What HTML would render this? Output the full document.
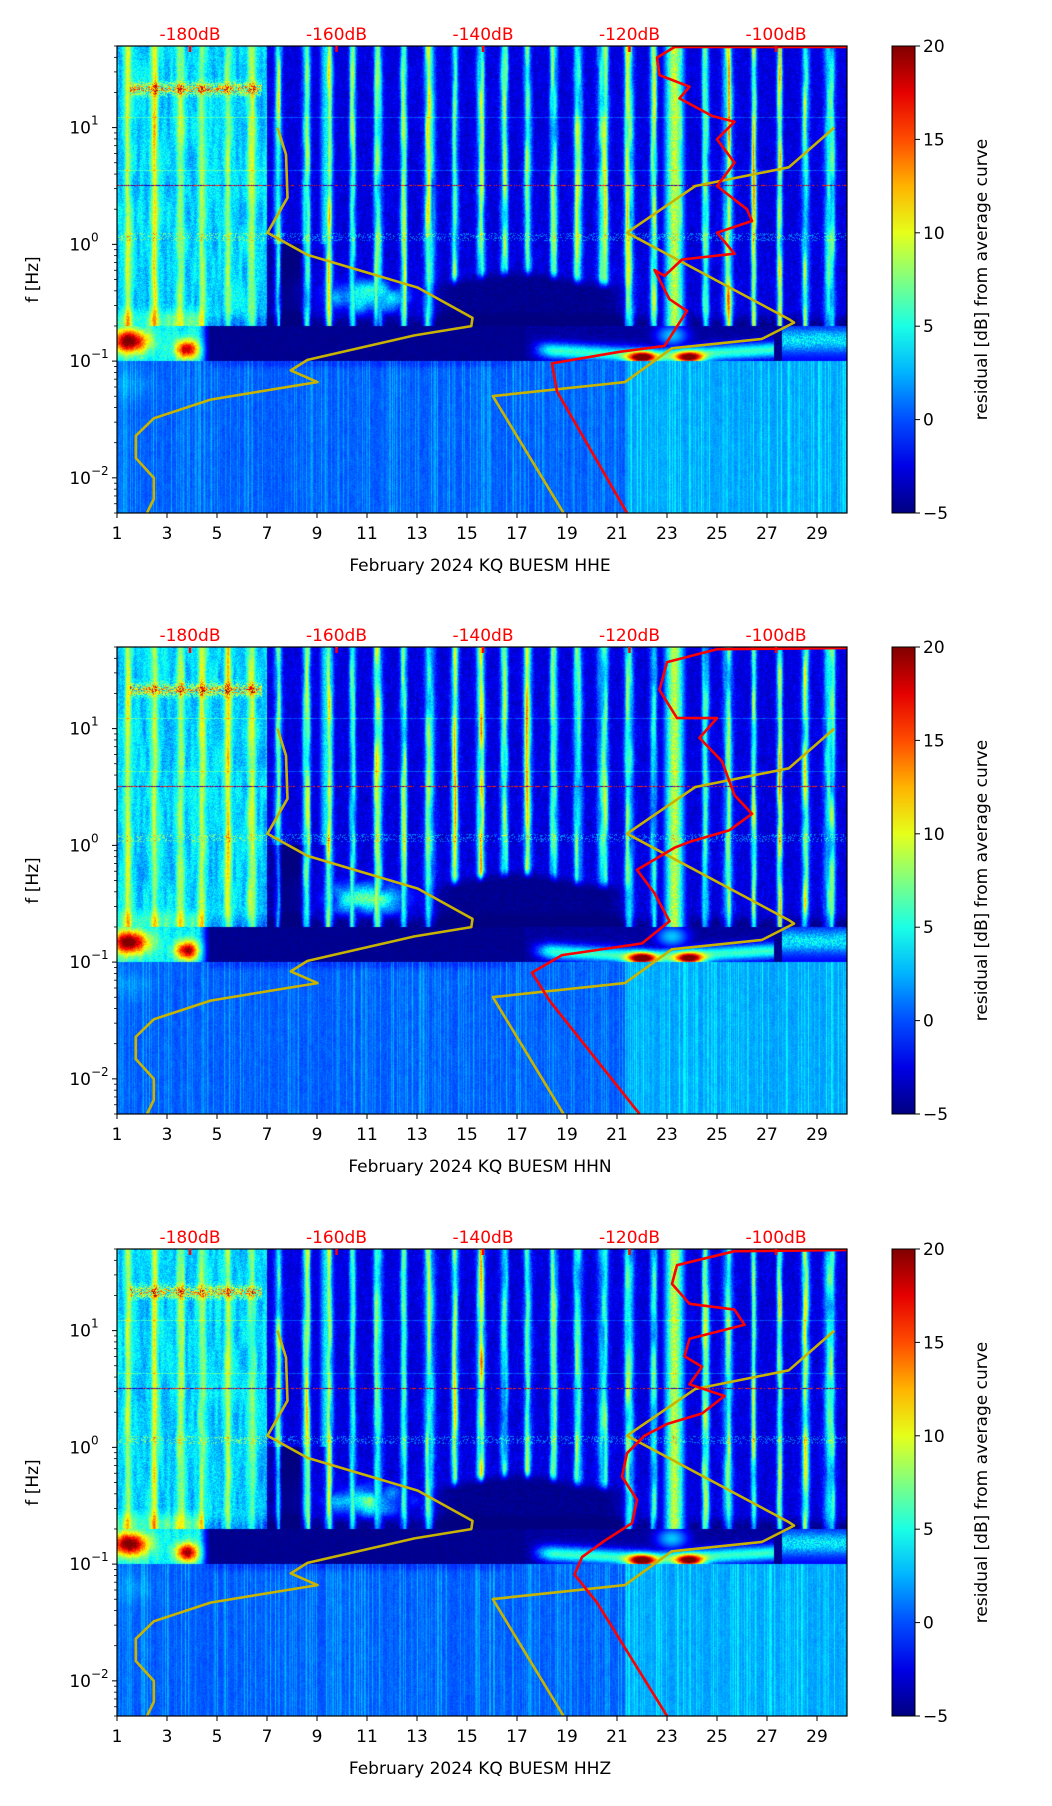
<!DOCTYPE html>
<html><head><meta charset="utf-8">
<style>
html,body{margin:0;padding:0;background:#fff;}
#wrap{position:relative;width:1052px;height:1806px;overflow:hidden;font-family:"DejaVu Sans","Liberation Sans",sans-serif;}
canvas{position:absolute;}
svg{position:absolute;left:0;top:0;}
</style></head>
<body>
<div id="wrap">
<canvas id="c0" width="730" height="467" style="left:117px;top:46px"></canvas>
<canvas id="c1" width="730" height="467" style="left:117px;top:647px"></canvas>
<canvas id="c2" width="730" height="467" style="left:117px;top:1249px"></canvas>
<svg id="svg" width="1052" height="1806"></svg>
</div>
<script>
// ---- data ----
const channels = ["HHE","HHN","HHZ"];
const panelTops = [46,647,1249];
const dayTicks = [1,3,5,7,9,11,13,15,17,19,21,23,25,27,29];
const dbTicks = [-180,-160,-140,-120,-100];
const cbTicks = [20,15,10,5,0,-5];
const yDecades = [1,0,-1,-2];
const yellowDays1 = [7.42,7.76,7.82,7.02,8.62,13.03,15.22,15.17,12.9,8.62,7.95,9.02,4.74,2.47,1.75,1.75,2.47,2.47,2.2];
const yellowLogF1 = [1.0,0.77,0.40,0.10,-0.09,-0.37,-0.63,-0.70,-0.78,-0.99,-1.08,-1.18,-1.33,-1.49,-1.64,-1.83,-2.0,-2.18,-2.30];
const yellowDays2 = [29.69,27.87,24.13,21.4,27.87,28.08,26.8,23.19,21.32,16.03,18.86];
const yellowLogF2 = [1.0,0.66,0.50,0.10,-0.64,-0.67,-0.81,-0.89,-1.18,-1.30,-2.30];
const redDaysHHE = [30.2,23.3,22.6,22.7,23.9,23.5,24.8,25.7,25.0,25.7,25.0,26.2,26.4,25.0,25.7,23.6,22.9,22.5,23.1,23.8,22.9,21.1,18.4,18.6,21.4];
const redLogFHHE = [1.69,1.69,1.60,1.45,1.35,1.25,1.10,1.05,0.90,0.70,0.50,0.30,0.20,0.10,-0.08,-0.13,-0.27,-0.22,-0.47,-0.57,-0.87,-0.92,-1.02,-1.26,-2.30];
const redDaysHHN = [30.2,25.0,23.0,22.7,23.4,25.0,24.3,25.2,25.7,26.4,25.5,23.9,23.3,21.8,22.5,23.1,22.0,18.8,17.6,18.3,21.9];
const redLogFHHN = [1.69,1.68,1.57,1.33,1.09,1.09,0.92,0.72,0.43,0.27,0.13,0.03,-0.02,-0.21,-0.41,-0.65,-0.84,-0.94,-1.09,-1.33,-2.30];
const redDaysHHZ = [30.2,25.7,23.4,23.2,23.9,25.7,26.1,23.9,23.7,24.4,23.9,25.3,24.4,23.0,22.1,21.4,21.2,21.8,21.6,20.5,19.6,19.3,20.2,23.0];
const redLogFHHZ = [1.69,1.68,1.56,1.40,1.23,1.18,1.05,0.93,0.78,0.69,0.54,0.44,0.29,0.20,0.10,-0.05,-0.25,-0.45,-0.65,-0.80,-0.94,-1.09,-1.33,-2.30];
const redDays = [redDaysHHE,redDaysHHN,redDaysHHZ];
const redLogF = [redLogFHHE,redLogFHHN,redLogFHHZ];

// ---- axes ----
const X0=117, PW=730, PH=467, DMIN=1, DMAX=30.2, LMIN=Math.log10(0.005), LMAX=Math.log10(50);
function xScale(d){return X0+(d-DMIN)/(DMAX-DMIN)*PW;}
function yScale(lf,top){return top+(LMAX-lf)/(LMAX-LMIN)*PH;}
function dbScale(db){return 190+(db+180)/20*146.5;}
function jet(t){t=Math.max(0,Math.min(1,t));
 const c=v=>Math.round(255*Math.max(0,Math.min(1,v)));
 return [c(1.5-Math.abs(4*t-3)),c(1.5-Math.abs(4*t-2)),c(1.5-Math.abs(4*t-1))];}

// ---- background texture ----
function h(a,b){let n=Math.sin(a*127.1+b*311.7)*43758.5453;return n-Math.floor(n);}
function vn(x,y,s){const xi=Math.floor(x),yi=Math.floor(y),fx=x-xi,fy=y-yi;
 const sx=fx*fx*(3-2*fx),sy=fy*fy*(3-2*fy);
 const a=h(xi+s,yi),b=h(xi+1+s,yi),c=h(xi+s,yi+1),d=h(xi+1+s,yi+1);
 return a+(b-a)*sx+(c-a)*sy+(a-b-c+d)*sx*sy;}
function g(x,c,w){const z=(x-c)/w;return Math.exp(-z*z);}
function sm(x,a,b){const t=Math.max(0,Math.min(1,(x-a)/(b-a)));return t*t*(3-2*t);}
function field(day,lf,p,xi,yi){
 const cn=h(xi,p*7+1), rn=h(xi*1.3,yi*0.7+p*1000);
 const n1=vn(xi/3,yi/28,p*50), n2=vn(xi/2,yi/8,p*90+7), n3=vn(xi/12,yi/12,p*30+3);
 const di=Math.floor(day), frac=day-di;
 const A=0.4+0.6*h(di,3+p), cc=0.5+0.16*(h(di,5)-0.5), w=0.11+0.1*h(di,9);
 const act=g(frac,cc,w)+0.5*g(frac,cc+0.3*(h(di,11)-0.5),0.08);
 let v;
 if(lf<-1.0){
  v=-0.6+2.4*Math.pow(cn,3)+1.0*rn+0.6*n2;
  if(day>21.3) v+=1.8;
  v+=1.2*g(day,1.6,0.8)*g(lf,-1.2,0.12);
  v-=1.0*g(lf,-1.02,0.04)*sm(day,4.2,5)*(1-sm(day,16,17.5));
  return Math.max(-5,v);
 }
 if(lf<-0.7){
  v=-5+0.8*rn;
  if(day<4.8){v=(2+2.5*rn+2*n1)*(1-sm(day,4.2,4.8))-5*sm(day,4.2,4.8);
   v+=17*g(day,1.5,0.75)*g(lf,-0.83,0.1);v+=15*g(day,3.8,0.45)*g(lf,-0.9,0.08);}
  if(day>17.3&&day<27.3){const arc=-0.96+0.06*Math.abs(day-22.5)/5;
   v=Math.max(v,-5+10*g(lf,arc,0.07)*sm(day,17.3,18.5)+1.5*rn);
   v+=20*g(day,22,0.55)*g(lf,-0.97,0.05)+19*g(day,23.9,0.55)*g(lf,-0.97,0.05);}
  if(day>27.6) v=Math.max(v,(3+3*rn)*g(lf,-0.82,0.1)*1.3-2);
  v=Math.max(v,-5+8*g(day,23.2,0.7)*g(lf,-0.78,0.1));
  return Math.max(-5,Math.min(20,v));
 }
 // upper region
 v=-4.2+(4+6*A)*act*(0.5+0.8*n1)+2.0*rn+1.0*n2;
 if(day<7){v=0.5+(2+4*A)*act+3*n1+2.5*rn;}
 if(lf<0){
  v-=5*g(day,7.8,0.6);
  v=Math.max(v,-5+(8+3*rn)*g(day,11,1.8)*g(lf,-0.45,0.16)*(0.6+0.8*n3));
  const dk=sm(day,13,14.5)*(1-sm(day,20.5,21.8))*sm(-lf,0.3-0.12*g(day,17,2.5),0.42-0.12*g(day,17,2.5));
  v=v*(1-dk)+(-5+1.2*rn*rn)*dk;
  if(day<4.5) v+=3*sm(-lf,0.5,0.65);
  v-=2*sm(-lf,0.55,0.7)*(day>4.5?1:0);
 }
 v=Math.max(v,g(day,23.3,0.4)*(12+4*rn)-5);
 if(lf>0) v=Math.max(v,g(day,9.4,0.3)*(8+3*rn)-5);
 if(lf>1.25&&lf<1.45&&day>1.5&&day<6.8) v+=12*g(lf,1.33,0.05)*rn;
 if(Math.abs(lf-0.505)<0.006) v=(rn>0.5?16:-3);
 if(Math.abs(lf-0.63)<0.005||Math.abs(lf-1.09)<0.005) v+=2.5;
 if(lf>0.03&&lf<0.1&&rn>0.75) v+=3;
 return Math.max(-5,Math.min(20,v));
}
function drawCanvas(p){
 const cv=document.getElementById('c'+p),ctx=cv.getContext('2d');
 const im=ctx.createImageData(PW,PH),d=im.data;
 for(let yi=0;yi<PH;yi++){
  const lf=LMAX-(yi+0.5)/PH*(LMAX-LMIN);
  for(let xi=0;xi<PW;xi++){
   const day=DMIN+(xi+0.5)/PW*(DMAX-DMIN);
   const v=field(day,lf,p,xi,yi);
   const c=jet((v+5)/25);const k=(yi*PW+xi)*4;
   d[k]=c[0];d[k+1]=c[1];d[k+2]=c[2];d[k+3]=255;
  }
 }
 ctx.putImageData(im,0,0);
}
[0,1,2].forEach(drawCanvas);

// ---- SVG ----
const NS="http://www.w3.org/2000/svg", svg=document.getElementById('svg');
function el(tag,attrs,parent,text){const e=document.createElementNS(NS,tag);for(const k in attrs)e.setAttribute(k,attrs[k]);if(text!==undefined)e.textContent=text;(parent||svg).appendChild(e);return e;}
const defs=el('defs',{});
const lg=el('linearGradient',{id:'jetg',x1:0,y1:1,x2:0,y2:0},defs);
for(let i=0;i<=10;i++){const c=jet(i/10);el('stop',{offset:(i*10)+'%','stop-color':`rgb(${c[0]},${c[1]},${c[2]})`},lg);}

channels.forEach((ch,p)=>{
 const top=panelTops[p], bot=top+PH;
 const G=el('g',{});
 
 
 [[yellowDays1,yellowLogF1],[yellowDays2,yellowLogF2]].forEach((cur,ci)=>{
  const pts=cur[0].map((dd,i)=>xScale(dd).toFixed(1)+','+yScale(cur[1][i],top).toFixed(1)).join(' ');
  const l=el('polyline',{points:pts,fill:'none',stroke:'#c8b400','stroke-width':2.6,'stroke-linejoin':'round'},G);
  
  
 });
 const rp=redDays[p].map((dd,i)=>xScale(dd).toFixed(1)+','+yScale(redLogF[p][i],top).toFixed(1)).join(' ');
 const rl=el('polyline',{points:rp,fill:'none',stroke:'#ff0000','stroke-width':2.6,'stroke-linejoin':'round'},G);
 
 
 const fr=el('rect',{x:X0,y:top,width:PW,height:PH,fill:'none',stroke:'#000','stroke-width':1.2},G);
 
 
 dayTicks.forEach(t=>{const x=xScale(t);
  el('line',{x1:x,y1:bot,x2:x,y2:bot+5,stroke:'#000','stroke-width':1},G);
  const tx=el('text',{x:x,y:bot+26,'font-size':17,'text-anchor':'middle',fill:'#000'},G,String(t));
  
  
 });
 const xl=el('text',{x:480,y:top+525,'font-size':17,'text-anchor':'middle',fill:'#000','xml:space':'preserve'},G,'February 2024 KQ BUESM  '+ch);
 
 
 for(let dcd=-3;dcd<=1;dcd++){for(let m=1;m<10;m++){const lf=dcd+Math.log10(m);if(lf<LMIN||lf>LMAX)continue;const y=yScale(lf,top);
  el('line',{x1:X0-(m===1?5:3),y1:y,x2:X0,y2:y,stroke:'#000','stroke-width':m===1?1:0.8},G);}}
 yDecades.forEach(e=>{const y=yScale(e,top);
  const t=el('text',{x:X0-26,y:y+6,'font-size':17,'text-anchor':'end',fill:'#000'},G,'10');
  
  
  el('text',{x:X0-26,y:y-3,'font-size':12,'text-anchor':'start',fill:'#000'},G,e<0?'\u2212'+(-e):String(e));
 });
 const yl=el('text',{x:0,y:0,'font-size':17,'text-anchor':'middle',transform:`translate(38,${top+PH/2}) rotate(-90)`,fill:'#000'},G,'f [Hz]');
 
 
 dbTicks.forEach(db=>{const x=dbScale(db);
  el('line',{x1:x,y1:top,x2:x,y2:top+6,stroke:'#ff0000','stroke-width':2.5},G);
  const t=el('text',{x:x,y:top-6,'font-size':17,'text-anchor':'middle',fill:'#ff0000'},G,db+'dB');
  
  
 });
 const cb=el('rect',{x:892,y:top,width:23,height:PH,fill:'url(#jetg)',stroke:'#000','stroke-width':1},G);
 
 
 cbTicks.forEach(v=>{const y=top+(20-v)/25*PH;
  el('line',{x1:915,y1:y,x2:920,y2:y,stroke:'#000','stroke-width':1},G);
  const t=el('text',{x:923,y:y+6,'font-size':17,fill:'#000'},G,v<0?'\u2212'+(-v):String(v));
  
  
 });
 const cl=el('text',{x:0,y:0,'font-size':17,'text-anchor':'middle',transform:`translate(987,${top+PH/2}) rotate(-90)`,fill:'#000'},G,'residual [dB] from average curve');
 
 
});
</script>
</body></html>
